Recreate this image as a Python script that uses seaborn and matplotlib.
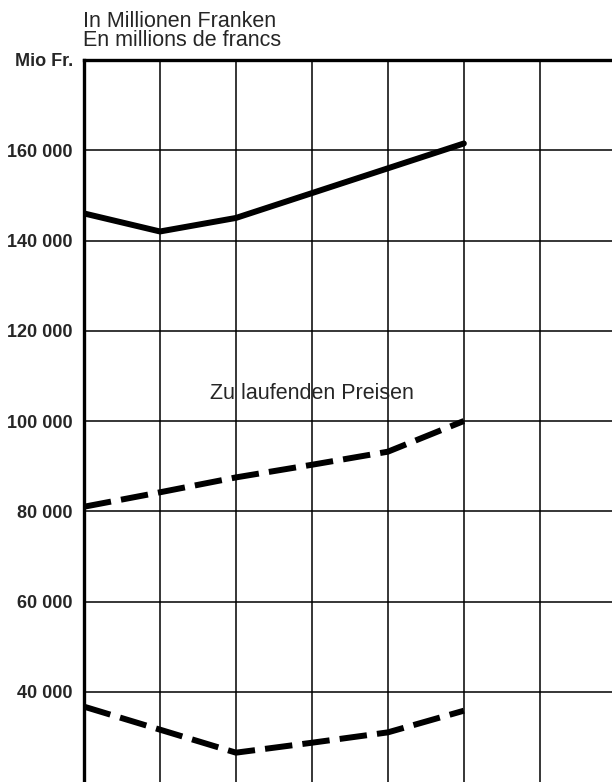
import matplotlib
matplotlib.use("Agg")
import matplotlib.pyplot as plt
import seaborn as sns
import pandas as pd

# Data
periods = [0, 1, 2, 3, 4, 5]
solid_values = [146000, 142000, 145000, 150500, 156000, 161500]
dashed_upper_values = [81000, 84200, 87500, 90300, 93200, 100000]
dashed_lower_values = [36700, 31600, 26500, 28700, 31000, 35800]
y_ticks = [40000, 60000, 80000, 100000, 120000, 140000, 160000, 180000]
y_tick_labels = ["40 000", "60 000", "80 000", "100 000", "120 000", "140 000", "160 000", "Mio Fr."]
title_lines = ["In Millionen Franken", "En millions de francs"]
annotation = "Zu laufenden Preisen"

sns.set_theme(style="white")
plt.rcParams['font.family'] = ['Liberation Sans', 'DejaVu Sans']

df = pd.DataFrame({
    "x": periods * 3,
    "y": solid_values + dashed_upper_values + dashed_lower_values,
    "series": ["solid"] * 6 + ["upper"] * 6 + ["lower"] * 6,
})

fig = plt.figure(figsize=(6.12, 7.82), dpi=100)
ax = fig.add_axes([84 / 612, 0.0, 1 - 84 / 612, 1 - 60 / 782])

sns.lineplot(data=df, x="x", y="y", hue="series", style="series",
             palette={"solid": "black", "upper": "black", "lower": "black"},
             dashes={"solid": "", "upper": (4.6, 1.7), "lower": (4.6, 1.7)},
             linewidth=4.3, legend=False, ax=ax, zorder=3)

ax.set_xlim(0, 6.95)
ax.set_ylim(20000, 180000)
ax.set_xticks([1, 2, 3, 4, 5, 6])
ax.set_xticklabels([])
ax.set_yticks(y_ticks)
ax.set_yticklabels(y_tick_labels, fontsize=13, fontweight="bold")
ax.tick_params(axis="both", length=0, pad=8)
ax.tick_params(axis="x", pad=0)
ax.grid(True, color="black", linewidth=1.1)
ax.set_xlabel("")
ax.set_ylabel("")
for s in ["right", "bottom"]:
    ax.spines[s].set_visible(False)
for s in ["left", "top"]:
    ax.spines[s].set_visible(True)
    ax.spines[s].set_color("black")
    ax.spines[s].set_linewidth(2.4)

ax.text(1.66, 106200, annotation, fontsize=15.5, va="center", ha="left", zorder=4)

fig.text(83 / 612, 1 - 11 / 782, "\n".join(title_lines), fontsize=15.5,
         va="top", ha="left", linespacing=0.88)

fig.savefig("out.png", dpi=100, facecolor="white")
